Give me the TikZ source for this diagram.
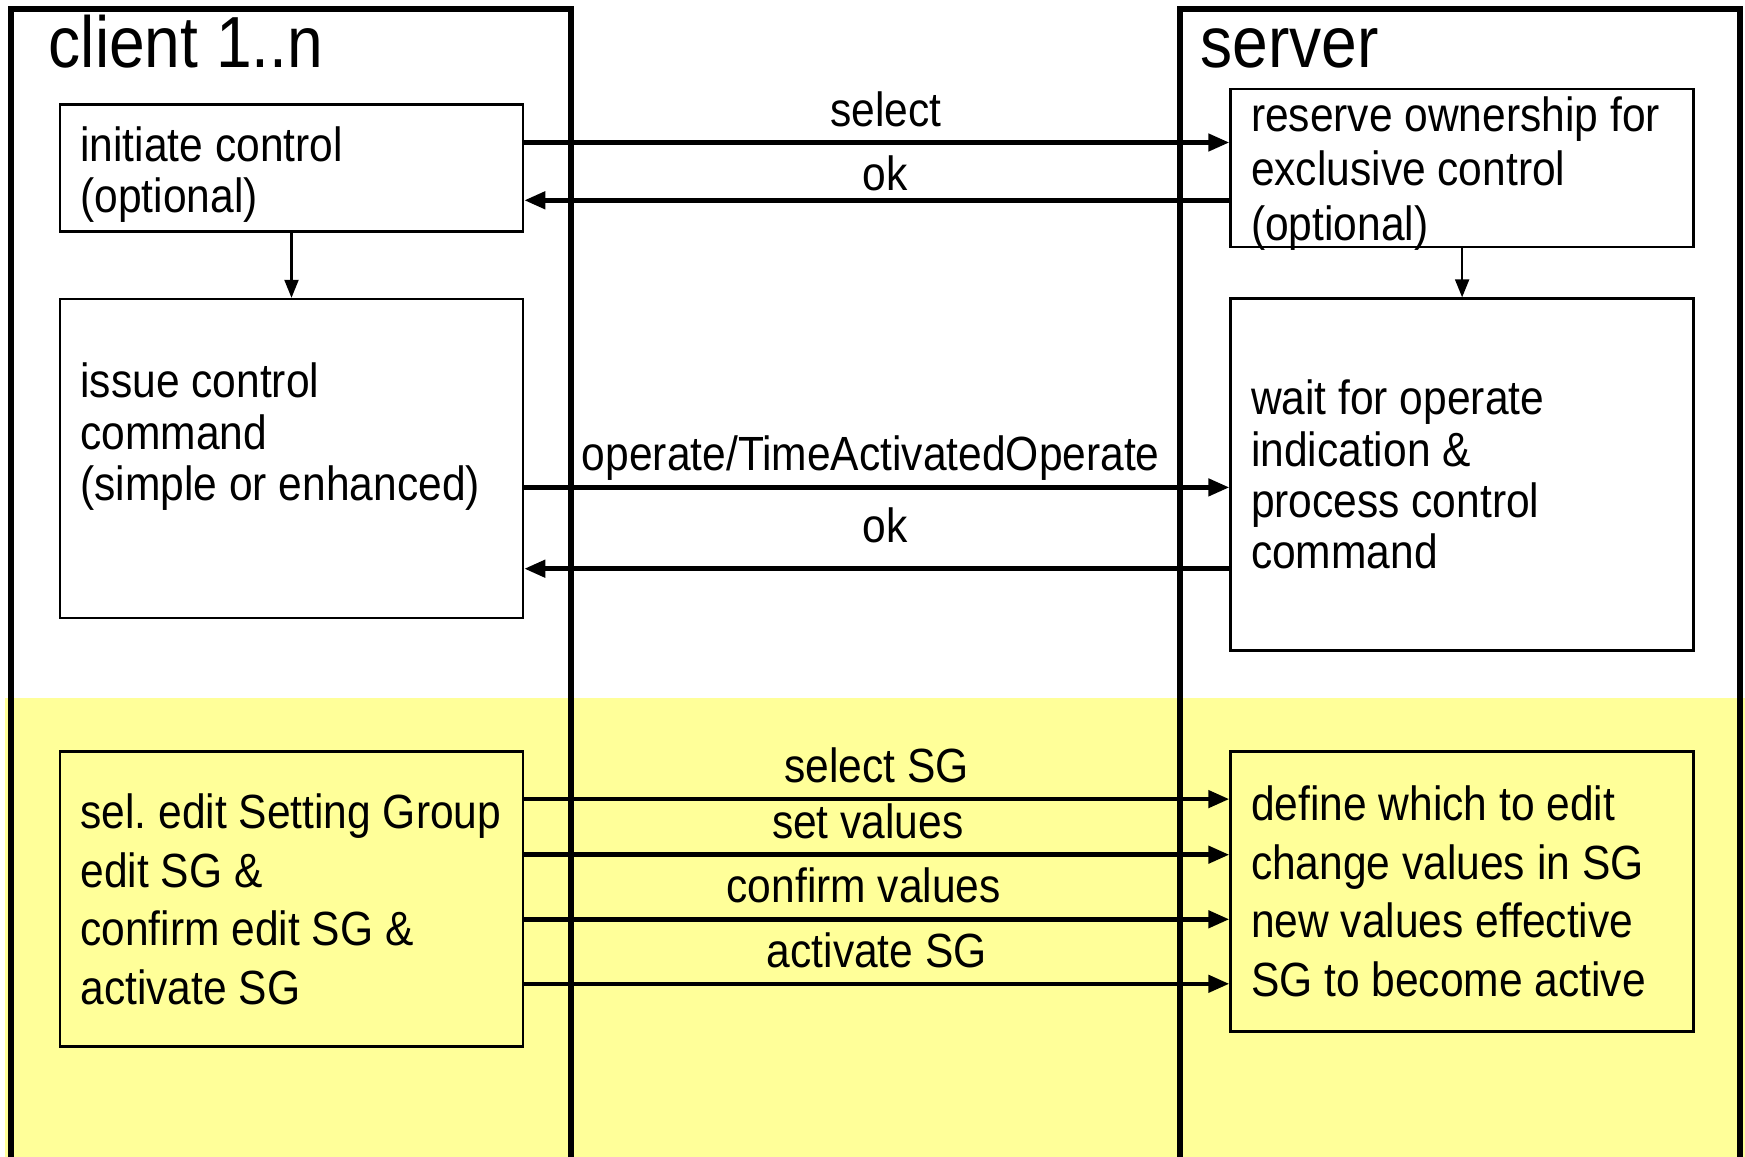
\documentclass[tikz,border=0pt]{standalone}
\usepackage{fontspec}
\setmainfont{Liberation Sans}[FakeStretch=0.886]
\usetikzlibrary{arrows.meta, positioning}
\definecolor{sgyellow}{RGB}{255,255,153}
\frenchspacing

\begin{document}
\begin{tikzpicture}[>={Triangle[length=2.1mm,width=1.7mm]}, node distance=0.65cm]
	\tikzstyle{lane}=[line width=1.7pt]
	\tikzstyle{box}=[draw=black, line width=0.75pt, rectangle, minimum width=4.63cm, inner sep=0pt]
	\tikzstyle{boxtext}=[anchor=west, align=left, inner sep=0pt, font=\fontsize{13.66}{14.57}\selectfont]
	\tikzstyle{msg}=[->, line width=1.3pt]
	\tikzstyle{msglabel}=[anchor=base, inner sep=0pt, yshift=0.165cm, font=\fontsize{13.66}{16}\selectfont]
	\tikzstyle{title}=[anchor=base west, inner sep=0pt, font=\fontsize{20.6}{24}\selectfont]

	\useasboundingbox (0,0) rectangle (17.45,-11.57);
	\fill[sgyellow] (0.05,-6.98) rectangle (17.45,-11.57);

	% lanes
	\draw[lane] (0.11,-11.7) |- (5.71,-0.09) -- (5.71,-11.7);
	\draw[lane] (11.80,-11.7) |- (17.40,-0.09) -- (17.40,-11.7);
	\node[title] (client) at (0.48,-0.67) {client 1..n};
	\node[title] (server) at (12.00,-0.67) {server};

	% boxes
	\node[box, minimum height=1.27cm] (init) at (2.915,-1.68) {};
	\node[box, minimum height=3.19cm] (issue) [below=of init] {};
	\node[box, minimum height=2.95cm] (sel) [below=1.31cm of issue] {};
	\node[box, minimum height=1.58cm] (reserve) [right=7.05cm of init] {};
	\node[box, minimum height=3.52cm] (wait) [below=0.49cm of reserve] {};
	\node[box, minimum height=2.80cm] (define) [below=0.98cm of wait] {};

	\node[boxtext] (initT) at ([xshift=0.21cm, yshift=-0.067cm]init.west) {initiate control\\(optional)};
	\node[boxtext] (issueT) at ([xshift=0.21cm, yshift=0.22cm]issue.west) {issue control\\command\\(simple or enhanced)};
	\node[boxtext, font=\fontsize{13.66}{16.7}\selectfont] (selT) at ([xshift=0.21cm]sel.west) {sel. edit Setting Group\\edit SG \&\\confirm edit SG \&\\activate SG};
	\node[boxtext, font=\fontsize{13.66}{15.5}\selectfont] (reserveT) at ([xshift=0.21cm, yshift=-0.055cm]reserve.west) {reserve ownership for\\exclusive control\\(optional)};
	\node[boxtext] (waitT) at ([xshift=0.21cm]wait.west) {wait for operate\\indication \&\\process control\\command};
	\node[boxtext, font=\fontsize{13.66}{16.7}\selectfont] (defineT) at ([xshift=0.21cm]define.west) {define which to edit\\change values in SG\\new values effective\\SG to become active};

	\path[->, line width=0.6pt, >={Triangle[length=1.8mm,width=1.4mm]}] (init) edge (issue);
	\path[->, line width=0.6pt, >={Triangle[length=1.8mm,width=1.4mm]}] (reserve) edge (wait);

	% messages
	\coordinate (ySel) at (0,-1.425);
	\coordinate (yOk) at (0,-2.003);
	\coordinate (yOper) at (0,-4.874);
	\coordinate (yOkB) at (0,-5.687);
	\coordinate (ySelSG) at (0,-7.991);
	\coordinate (ySet) at (0,-8.547);
	\coordinate (yConf) at (0,-9.193);
	\coordinate (yAct) at (0,-9.838);

	\path[msg] (init.east |- ySel) edge node[msglabel, xshift=0.09cm] {select} (reserve.west |- ySel);
	\path[msg] (reserve.west |- yOk) edge node[msglabel, xshift=0.08cm, yshift=-0.065cm] {ok} (init.east |- yOk);
	\path[msg] (issue.east |- yOper) edge node[msglabel, xshift=-0.06cm] {operate/TimeActivatedOperate} (wait.west |- yOper);
	\path[msg] (wait.west |- yOkB) edge node[msglabel, xshift=0.08cm, yshift=0.1cm] {ok} (issue.east |- yOkB);
	\path[msg] (sel.east |- ySelSG) edge node[msglabel] {select SG} (define.west |- ySelSG);
	\path[msg] (sel.east |- ySet) edge node[msglabel, xshift=-0.09cm] {set values} (define.west |- ySet);
	\path[msg] (sel.east |- yConf) edge node[msglabel, xshift=-0.13cm] {confirm values} (define.west |- yConf);
	\path[msg] (sel.east |- yAct) edge node[msglabel] {activate SG} (define.west |- yAct);
\end{tikzpicture}
\end{document}
